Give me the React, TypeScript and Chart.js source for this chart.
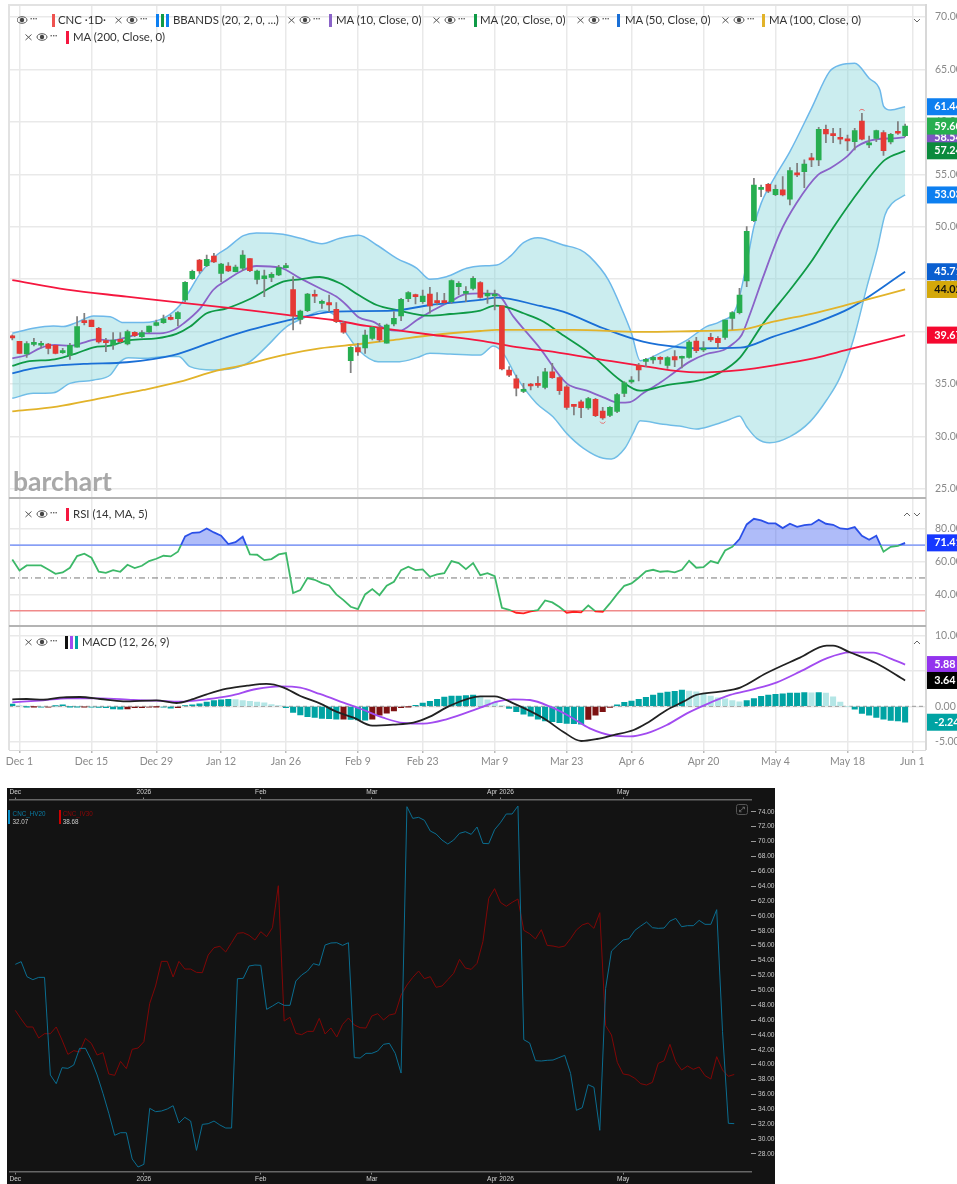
import React, { useEffect, useRef } from "react";
import { Chart, registerables } from "chart.js";

Chart.register(...registerables);

const FONT = "Lato, 'Noto Sans', sans-serif";

// Trading-day positions of the date axis (0 = Dec 1)
const dateTickIdx = [0, 10, 19, 28, 37, 47, 56, 66, 76, 85, 95, 105, 115, 124];
const dateTickLabels = ["Dec 1", "Dec 15", "Dec 29", "Jan 12", "Jan 26", "Feb 9", "Feb 23", "Mar 9", "Mar 23", "Apr 6", "Apr 20", "May 4", "May 18", "Jun 1"];
const priceTicks = [25, 30, 35, 40, 45, 50, 55, 60, 65, 70];
const rsiTicks = [40, 60, 80];
const macdTicks = [-5, 0, 5, 10];

// open, high, low, close for each session, first = Nov 28 (index -1)
const candles: number[][] = [
  [39.53, 39.69, 39.21, 39.4], [39.08, 39.08, 37.93, 37.93], [37.87, 39.05, 37.55, 38.85], [38.79, 39.36, 38.63, 38.95], [38.7, 39.08, 38.44, 38.89],
  [38.82, 38.89, 37.87, 38.41], [38.7, 38.7, 37.87, 37.93], [38.0, 38.41, 37.93, 38.16], [37.77, 38.89, 37.36, 38.7], [38.51, 41.43, 38.51, 40.48],
  [40.95, 41.75, 40.63, 40.86], [41.11, 41.11, 40.48, 40.48], [40.32, 40.41, 38.89, 39.01], [39.14, 39.36, 38.09, 38.95], [38.73, 39.9, 38.31, 39.2],
  [39.27, 39.9, 38.89, 39.05], [38.82, 40.16, 38.73, 40.0], [39.94, 40.0, 39.52, 39.62], [39.52, 40.09, 39.46, 39.9], [39.97, 40.54, 39.9, 40.54],
  [40.6, 41.11, 40.54, 40.86], [40.86, 41.59, 40.79, 41.21], [41.33, 41.59, 41.11, 41.17], [41.24, 41.91, 40.54, 41.81], [43.02, 44.77, 42.86, 44.7],
  [45.05, 45.88, 44.99, 45.75], [46.83, 46.9, 45.56, 45.78], [46.29, 47.31, 46.2, 46.9], [47.21, 47.47, 46.58, 46.64], [45.56, 46.51, 44.77, 46.45],
  [46.26, 46.58, 45.72, 45.78], [45.72, 46.35, 45.69, 46.16], [46.04, 47.72, 45.81, 47.31], [46.96, 46.96, 45.72, 45.81], [44.99, 45.88, 44.54, 45.78],
  [45.05, 45.88, 43.34, 45.31], [45.18, 45.62, 44.77, 45.47], [45.4, 46.32, 45.34, 46.1], [46.1, 46.51, 46.04, 46.29], [44.0, 45.24, 40.16, 41.49],
  [41.17, 42.06, 40.73, 41.97], [42.0, 43.65, 41.91, 43.59], [43.56, 43.97, 42.76, 43.37], [42.7, 43.02, 42.22, 42.86], [42.76, 43.49, 41.91, 42.54],
  [42.13, 42.76, 40.86, 40.95], [40.79, 40.95, 39.84, 39.94], [37.23, 38.57, 36.09, 38.51], [38.47, 38.89, 37.74, 38.06], [38.44, 40.16, 37.93, 39.68],
  [39.36, 40.48, 39.2, 40.41], [40.38, 40.79, 39.05, 39.2], [38.89, 40.73, 38.89, 40.63], [40.73, 41.91, 40.54, 41.27], [41.49, 43.18, 41.05, 43.08],
  [43.15, 43.81, 42.86, 43.72], [43.4, 43.59, 42.64, 43.34], [42.86, 43.97, 42.7, 43.4], [43.59, 44.23, 41.75, 42.45], [42.86, 43.72, 42.54, 42.76],
  [42.86, 43.65, 42.7, 42.76], [42.86, 44.93, 42.7, 44.86], [44.29, 44.77, 43.49, 44.61], [43.65, 44.29, 42.86, 43.81], [44.13, 45.24, 43.97, 45.08],
  [44.67, 44.77, 43.18, 43.27], [43.4, 43.97, 42.7, 43.65], [43.4, 43.97, 42.06, 43.59], [42.45, 42.45, 36.34, 36.44], [36.34, 36.66, 35.71, 35.84],
  [35.49, 35.87, 33.87, 34.6], [34.31, 35.07, 34.18, 34.5], [34.91, 35.07, 34.44, 34.82], [35.01, 35.71, 34.69, 34.88], [34.69, 36.5, 34.53, 36.18],
  [36.18, 36.98, 35.55, 35.61], [35.61, 35.71, 34.02, 34.37], [34.75, 34.91, 32.59, 32.78], [32.97, 33.0, 32.05, 32.88], [33.32, 33.48, 31.8, 32.75],
  [32.72, 33.74, 32.59, 33.61], [33.55, 33.64, 31.89, 32.0], [32.43, 32.78, 31.64, 31.77], [32.02, 32.85, 31.89, 32.78], [32.4, 34.12, 32.28, 33.99],
  [34.12, 35.23, 33.8, 35.13], [35.2, 35.71, 35.07, 35.39], [36.79, 36.98, 35.3, 36.34], [37.17, 37.46, 36.66, 37.3], [37.3, 37.68, 36.98, 37.55],
  [37.49, 37.62, 36.92, 37.36], [36.79, 37.62, 36.5, 37.52], [37.62, 38.19, 36.66, 37.3], [37.46, 37.68, 36.53, 37.62], [37.55, 39.14, 37.46, 39.01],
  [39.11, 39.46, 38.0, 38.19], [38.25, 39.05, 38.09, 38.41], [39.46, 39.84, 39.05, 39.2], [39.36, 39.52, 38.41, 38.95], [39.46, 41.11, 39.27, 41.11],
  [41.27, 41.91, 40.22, 41.81], [41.81, 44.13, 41.68, 43.49], [44.83, 50.01, 44.29, 49.56], [50.58, 54.62, 50.49, 53.98], [53.57, 53.98, 52.87, 53.7],
  [54.05, 54.14, 53.25, 53.38], [53.06, 53.98, 52.97, 53.57], [53.51, 54.78, 52.93, 53.03], [52.62, 55.63, 52.08, 55.35], [55.03, 56.05, 54.78, 54.94],
  [55.25, 56.37, 53.73, 55.98], [56.49, 57.0, 55.73, 56.37], [56.37, 59.48, 55.82, 59.28], [59.28, 59.7, 58.02, 58.84], [58.78, 59.38, 58.02, 58.68],
  [58.53, 59.38, 57.89, 58.34], [58.27, 58.75, 57.26, 58.18], [58.11, 59.38, 57.32, 59.16], [60.08, 60.81, 58.27, 58.34], [57.8, 58.65, 57.54, 57.89],
  [58.43, 59.22, 58.11, 59.16], [58.97, 59.16, 56.79, 57.26], [58.08, 58.91, 57.89, 58.81], [58.97, 60.02, 58.81, 58.91], [58.69, 59.79, 58.59, 59.6],
];

// session index, value
const bbUpper: number[][] = [[-1, 39.84], [1.9, 40.32], [4.7, 40.54], [6.1, 40.48], [7.9, 40.86], [10.3, 41.49], [12.6, 41.43], [14.4, 40.86], [17.2, 40.86], [20.4, 41.43], [22.3, 42.54], [23.7, 43.97], [25.1, 45.56], [27.4, 47.31], [28.8, 47.94], [31.1, 49.15], [32.9, 49.41], [36.6, 49.28], [39, 48.9], [42, 48.39], [44.5, 48.9], [47.1, 49.18], [49.6, 48.26], [52.4, 46.99], [55.2, 46.04], [57, 44.99], [59.3, 45.24], [62.1, 46.04], [64, 46.26], [66.3, 46.35], [68.1, 47.15], [70, 48.48], [72, 48.96], [75.5, 48.26], [77.9, 47.79], [79.2, 47.15], [81.8, 44.92], [83.9, 41.75], [85, 39.84], [86.2, 37.23], [89.4, 38.09], [92.7, 39.2], [95.4, 40.48], [97.3, 40.95], [99.6, 42.38], [101, 46.51], [102, 50.01], [103, 52.23], [105, 54.84], [107, 57.16], [110, 61.29], [112.5, 64.79], [114, 65.42], [116, 65.58], [118, 64.15], [119.5, 63.04], [120, 61.51], [121, 61.13], [123, 61.44]];
const bbLower: number[][] = [[-1, 33.64], [1.9, 34.12], [4.7, 34.18], [7, 35.07], [10.3, 35.39], [12.6, 35.87], [14, 37.14], [15.1, 37.52], [17.2, 37.46], [20.4, 37.62], [22.1, 37.62], [23.7, 36.66], [26.9, 36.34], [29.7, 36.5], [32, 37.14], [34.3, 38.57], [37.1, 40.48], [39.4, 41.27], [42, 41.97], [44, 41.43], [45.4, 39.84], [47.1, 38.25], [49.8, 37.14], [52.8, 37.14], [55.2, 37.52], [57, 37.93], [59.8, 37.87], [64, 37.77], [65.8, 38.63], [67.2, 37.93], [69, 35.71], [71.8, 33.17], [74.1, 31.89], [76, 30.3], [78.3, 28.9], [81.1, 27.92], [82.2, 27.86], [84.1, 28.9], [85.2, 30.3], [86.2, 31.5], [89.4, 31.16], [91.7, 31.0], [94, 30.72], [96.4, 31.1], [98.7, 31.64], [100, 31.96], [101, 30.94], [102.4, 29.83], [104.2, 29.41], [107, 29.99], [109.8, 31.42], [112.1, 33.48], [114, 35.71], [115.8, 39.2], [117.7, 44.29], [119.1, 47.79], [120.2, 51.13], [121.2, 52.23], [123, 53.03]];
const ma10: number[][] = [[-1, 37.46], [1, 37.77], [2.8, 38.41], [4.9, 38.73], [7, 38.66], [8.9, 38.95], [10.7, 39.27], [12.6, 39.14], [14.9, 39.46], [17.2, 39.84], [19.5, 39.84], [21.4, 40.16], [22.8, 40.79], [25.1, 42.22], [26.9, 43.97], [28.8, 44.92], [31.1, 45.88], [32.9, 46.26], [36.2, 46.1], [39, 45.08], [41.7, 44.13], [44, 43.34], [45.4, 42.54], [47.1, 41.37], [49.1, 40.95], [51, 40.22], [52.8, 40.09], [55.2, 41.11], [57.5, 42.06], [59.8, 42.86], [62.1, 43.59], [64, 43.65], [66.3, 43.59], [68.6, 41.43], [72.3, 38.41], [76, 35.07], [78.8, 34.37], [81.1, 33.74], [83.2, 33.23], [84.8, 33.29], [86.6, 34.12], [89, 35.14], [90.8, 36.03], [93.1, 37.14], [95.4, 37.87], [97.8, 38.25], [99.2, 38.89], [100.3, 39.68], [101.5, 41.75], [103.3, 45.24], [105.6, 49.37], [107.9, 52.23], [110.9, 54.94], [112.6, 55.57], [114.9, 56.68], [116.3, 57.64], [119, 58.34], [121.4, 58.43], [123, 58.54]];
const ma20: number[][] = [[-1, 36.73], [1, 37.14], [4.9, 37.36], [7.9, 37.93], [10.3, 38.51], [12.6, 38.66], [15.3, 39.2], [19, 39.36], [21.8, 39.78], [23.7, 40.48], [26, 41.75], [28.8, 42.22], [32, 43.11], [36.6, 44.77], [39, 44.99], [41.7, 45.21], [44.5, 44.61], [47.1, 43.49], [49.6, 42.54], [52.4, 42.06], [57, 41.52], [59.8, 41.68], [64, 42.0], [66, 42.48], [67.4, 42.38], [70, 41.75], [72.8, 40.95], [75.1, 39.84], [79.2, 37.93], [83.4, 35.39], [86.2, 34.37], [89.9, 34.91], [95, 35.45], [97.3, 36.09], [100.1, 37.55], [103.3, 40.79], [107, 43.97], [109.8, 46.51], [113.1, 50.01], [116.7, 53.51], [120.2, 56.37], [123, 57.24]];
const ma50: number[][] = [[-1, 36.03], [1.9, 36.5], [8.9, 36.92], [14.9, 37.08], [21.4, 37.77], [26.9, 39.05], [32, 40.16], [37.1, 41.05], [39.9, 41.49], [43.6, 41.91], [51.9, 42.0], [57, 42.54], [64, 43.02], [66.3, 43.24], [72.3, 42.45], [75.5, 41.91], [81.1, 40.32], [86.6, 39.05], [91.7, 38.51], [94, 38.41], [100.1, 38.47], [104.7, 39.52], [110.3, 40.79], [115.3, 42.22], [123, 45.71]];
const ma100: number[][] = [[-1, 32.4], [5.2, 32.85], [11.2, 33.64], [17.2, 34.44], [22.3, 35.23], [27.4, 36.28], [30.6, 36.73], [36.6, 37.77], [41.7, 38.41], [47.3, 38.82], [51.9, 39.2], [57.5, 39.68], [64, 40.06], [66.3, 40.16], [76.9, 40.16], [86.2, 39.97], [94, 40.06], [100.5, 40.22], [104.7, 40.95], [110.3, 41.75], [114.9, 42.54], [123, 44.02]];
const ma200: number[][] = [[-1, 44.92], [6.6, 44.0], [14.9, 43.34], [22.3, 42.76], [29.7, 42.22], [37.1, 41.59], [43.6, 41.11], [48.2, 40.54], [52.8, 40.09], [57.5, 39.68], [64, 39.14], [68.6, 38.57], [73.2, 38.16], [79.7, 37.46], [87.1, 36.66], [94, 36.12], [100.1, 36.34], [105.6, 36.88], [110.3, 37.46], [114.9, 38.25], [123, 39.67]];

const rsi = [61.3, 54.59, 57.64, 57.64, 57.64, 55.2, 52.56, 53.37, 56.22, 63.33, 64.76, 62.32, 53.78, 53.17, 54.8, 53.78, 58.05, 56.02, 57.44, 60.28, 61.71, 63.54, 63.13, 65.98, 75.33, 77.56, 77.76, 80.2, 77.76, 75.73, 70.65, 71.87, 75.12, 64.35, 64.15, 60.89, 61.5, 64.35, 65.16, 40.77, 42.6, 49.92, 48.9, 46.87, 45.45, 39.96, 36.5, 32.44, 31.02, 39.96, 43.21, 39.55, 45.24, 47.68, 54.8, 56.83, 54.8, 55.2, 50.73, 52.15, 52.97, 60.28, 59.07, 55.41, 59.07, 51.75, 52.97, 51.14, 31.83, 30.61, 28.78, 28.37, 29.59, 30.41, 36.3, 35.08, 32.24, 28.78, 29.39, 28.98, 33.25, 29.59, 29.39, 34.47, 40.16, 45.24, 46.67, 50.12, 53.98, 55.0, 53.78, 54.19, 53.37, 55.0, 60.49, 56.22, 56.63, 60.28, 59.07, 66.79, 69.02, 73.7, 82.64, 86.1, 85.08, 83.25, 83.25, 80.41, 83.05, 81.22, 82.24, 82.64, 85.49, 83.05, 82.44, 80.2, 79.8, 81.02, 75.73, 73.29, 75.73, 65.98, 69.02, 69.63, 71.41];

const macdLine: number[][] = [[-1, 0.99], [1, 1.03], [3.3, 0.94], [6.1, 1.27], [8.4, 1.31], [11.2, 1.03], [14.4, 0.7], [19, 0.85], [21.8, 0.47], [23.7, 0.89], [26, 1.69], [28.8, 2.49], [31.6, 2.91], [34.3, 3.15], [36.6, 2.68], [39, 1.46], [41.7, 0.42], [44, -0.75], [46.4, -1.6], [49, -2.72], [51.9, -2.58], [54.7, -2.3], [57, -1.46], [59.8, 0.09], [64, 1.41], [66, 1.41], [68.6, 0.42], [72.8, -1.69], [75.5, -3.57], [78, -4.88], [80.2, -4.6], [82.5, -4.04], [85.3, -3.33], [87.1, -2.39], [89.9, -0.52], [92.2, 0.66], [94, 1.6], [97.3, 2.07], [100.1, 2.63], [103.7, 4.65], [108.4, 6.85], [112.1, 8.54], [113, 8.54], [115.3, 7.61], [119, 6.06], [123, 3.64]];
const macdSignal: number[][] = [[-1, 0.56], [3.3, 0.85], [6.6, 1.13], [11.2, 1.13], [15.8, 0.89], [19, 0.8], [22.3, 0.66], [26, 0.99], [29.2, 1.46], [32.9, 2.44], [36.2, 2.82], [39, 2.63], [41.7, 1.74], [45, 0.52], [47.8, -0.52], [50.5, -1.6], [53.3, -2.35], [56.1, -2.44], [59.3, -1.83], [64, -0.19], [66.3, 0.66], [68.6, 0.99], [70.9, 0.89], [73.7, -0.05], [76.5, -1.46], [79.2, -3.1], [82.5, -4.13], [84.8, -4.23], [87.1, -3.8], [89.9, -2.63], [92.7, -0.99], [95.4, 0.28], [98.7, 1.6], [101.9, 2.39], [105.2, 3.38], [108.4, 4.88], [112.1, 6.76], [115.3, 7.61], [118.6, 7.56], [120.9, 6.76], [123, 5.88]];
const macdHist = [0.3, 0.1, -0.05, -0.05, -0.1, -0.1, 0.05, 0.2, -0.05, -0.08, -0.08, -0.1, -0.15, -0.2, -0.35, -0.4, -0.35, -0.2, -0.2, -0.1, -0.05, -0.1, -0.25, -0.2, 0.1, 0.2, 0.35, 0.6, 0.8, 0.9, 1.0, 0.95, 0.8, 0.7, 0.6, 0.5, 0.25, 0.1, -0.2, -0.85, -1.2, -1.45, -1.55, -1.7, -1.75, -1.8, -1.8, -1.85, -1.9, -1.95, -1.8, -1.25, -0.95, -0.65, -0.2, -0.05, 0.15, 0.45, 0.7, 1.0, 1.3, 1.45, 1.45, 1.5, 1.6, 1.4, 0.9, 0.6, 0.1, -0.3, -0.75, -1.1, -1.4, -1.8, -2.05, -2.15, -2.3, -2.4, -2.45, -2.5, -1.85, -1.25, -0.75, -0.15, 0.2, 0.55, 0.75, 1.0, 1.25, 1.6, 1.85, 2.0, 2.1, 2.3, 2.15, 2.05, 1.75, 1.45, 1.2, 1.05, 0.8, 0.65, 0.8, 1.1, 1.4, 1.6, 1.7, 1.75, 1.85, 1.85, 1.95, 1.9, 1.95, 1.85, 1.35, 0.6, 0, -0.4, -1.0, -1.25, -1.55, -1.8, -2.0, -2.05, -2.24];

// Lower panel: historical and implied volatility, first = Dec 1
const hv20 = [53.48, 53.84, 51.82, 51.42, 51.73, 51.73, 38.61, 37.44, 39.59, 39.5, 39.95, 42.19, 42.19, 40.62, 38.61, 36.14, 33.45, 30.5, 30.85, 30.85, 27.32, 26.24, 26.6, 34.13, 33.68, 33.77, 34.04, 34.48, 32.15, 32.92, 32.42, 28.48, 31.97, 32.06, 32.42, 31.89, 31.48, 31.48, 51.55, 51.6, 53.26, 53.39, 53.35, 47.43, 47.88, 48.37, 47.97, 47.97, 51.24, 52.05, 52.58, 53.57, 53.35, 56.08, 56.35, 56.39, 56.03, 56.39, 40.94, 40.89, 41.52, 41.52, 41.83, 42.73, 42.86, 41.52, 38.87, 74.67, 73.1, 73.24, 72.84, 71.4, 71.0, 70.19, 69.65, 70.19, 71.09, 71.31, 70.95, 71.94, 69.74, 69.7, 71.58, 72.52, 73.69, 73.69, 74.76, 43.35, 42.91, 40.53, 40.49, 40.58, 40.62, 40.94, 41.25, 38.83, 33.86, 34.22, 37.31, 36.95, 31.17, 50.25, 55.27, 56.03, 56.75, 56.93, 58.05, 58.63, 59.17, 58.41, 58.32, 58.36, 59.3, 59.66, 58.54, 58.68, 58.68, 59.39, 58.86, 58.86, 60.83, 44.43, 32.11, 32.07];
const iv30 = [47.3, 46.13, 45.06, 45.06, 43.58, 44.16, 44.16, 45.06, 43.31, 41.38, 41.88, 41.7, 43.53, 42.86, 41.29, 41.61, 38.74, 38.56, 40.44, 39.46, 42.06, 42.23, 43.09, 48.24, 50.57, 53.88, 53.88, 51.78, 53.88, 52.85, 52.85, 52.4, 52.36, 54.73, 55.72, 55.9, 55.14, 56.39, 57.65, 57.74, 57.38, 56.75, 57.87, 57.2, 58.41, 64.05, 45.86, 46.36, 44.21, 44.03, 44.47, 44.47, 46.22, 44.12, 44.92, 43.71, 45.42, 46.27, 45.33, 44.97, 44.92, 46.54, 46.85, 46.0, 46.67, 46.85, 49.36, 50.7, 51.73, 52.58, 51.55, 51.82, 50.39, 50.57, 51.42, 52.27, 54.15, 52.99, 52.81, 53.61, 56.53, 62.35, 63.65, 61.81, 61.28, 61.81, 62.26, 58.05, 57.6, 56.89, 58.14, 56.03, 55.94, 55.77, 55.94, 56.93, 58.1, 58.77, 59.04, 58.32, 60.42, 45.24, 43.98, 40.31, 38.74, 38.61, 38.16, 37.44, 37.26, 37.62, 40.17, 40.53, 42.73, 40.4, 39.28, 39.82, 39.37, 39.68, 38.52, 38.07, 41.07, 39.28, 38.43, 38.68];
const volTickIdx = [0, 22, 42, 61, 83, 104];
const volTickLabels = ["Dec", "2026", "Feb", "Mar", "Apr 2026", "May"];
const volTicks = [28, 30, 32, 34, 36, 38, 40, 42, 44, 46, 48, 50, 52, 54, 56, 58, 60, 62, 64, 66, 68, 70, 72, 74];

const priceTags: [number, string, string][] = [
  [39.67, "#f5082f", "#fff"], [44.02, "#d4a80a", "#111"], [45.71, "#0a5fd0", "#fff"], [53.03, "#0d7ff0", "#fff"],
  [58.54, "#7e57c2", "#fff"], [61.44, "#0d7ff0", "#fff"], [57.24, "#0a8a3c", "#fff"], [59.6, "#27ae50", "#fff"],
];
const rsiTags: [number, string, string][] = [[71.41, "#1638ff", "#fff"]];
const macdTags: [number, string, string][] = [[-2.24, "#00a3a3", "#fff"], [5.88, "#9333ee", "#fff"], [3.64, "#000", "#fff"]];

const GRID = "#e9e9e9";
const GREEN = "#27ae50";
const RED = "#e53935";
const xMin = -1.458;
const xMax = 125.86;

const pts = (rows: number[][]) => rows.map(([x, y]) => ({ x, y }));
const series = (vals: number[], start: number) => vals.map((y, i) => ({ x: start + i, y }));

const noEdgePadding = (s: any) => {
  s.paddingTop = 0;
  s.paddingBottom = 0;
  s.paddingLeft = 0;
  s.paddingRight = 0;
};

const tagPlugin = (tags: [number, string, string][]) => ({
  id: "tags",
  afterDraw(chart: any) {
    const { ctx, scales, chartArea } = chart;
    ctx.save();
    ctx.font = `bold 10.8px ${FONT}`;
    ctx.textBaseline = "middle";
    ctx.textAlign = "left";
    for (const [v, bg, fg] of tags) {
      const y = scales.y.getPixelForValue(v);
      ctx.fillStyle = bg;
      ctx.fillRect(chartArea.right, y - 8.5, 40, 17);
      ctx.fillStyle = fg;
      ctx.fillText(v.toFixed(2), chartArea.right + 8.5, y);
    }
    ctx.restore();
  },
});

const extremesPlugin = {
  id: "extremes",
  afterDatasetsDraw(chart: any) {
    const { ctx, scales } = chart;
    const mark = (i: number, v: number, up: boolean) => {
      ctx.beginPath();
      const x = scales.x.getPixelForValue(i);
      const y = scales.y.getPixelForValue(v) + (up ? -3 : 3);
      if (up) ctx.arc(x, y + 2, 3, Math.PI * 1.15, Math.PI * 1.85);
      else ctx.arc(x, y - 2, 3, Math.PI * 0.15, Math.PI * 0.85);
      ctx.strokeStyle = "#e57373";
      ctx.lineWidth = 1;
      ctx.stroke();
    };
    mark(117, candles[118][1], true);
    mark(81, candles[82][2], false);
  },
};

const xScale = (labels: boolean) => ({
  type: "linear",
  min: xMin,
  max: xMax,
  offset: false,
  afterBuildTicks(s: any) {
    s.ticks = dateTickIdx.map((value) => ({ value }));
  },
  afterFit(s: any) {
    s.height = labels ? 26 : 0;
    noEdgePadding(s);
  },
  border: { display: false },
  grid: { color: GRID, lineWidth: 1.5, offset: false, drawTicks: labels, tickLength: 3, tickColor: "#bbb" },
  ticks: {
    display: labels,
    autoSkip: false,
    maxRotation: 0,
    padding: 2,
    color: "#8a8a8a",
    font: { family: FONT, size: 10.5 },
    callback: (v: number) => dateTickLabels[dateTickIdx.indexOf(v)] ?? "",
  },
});

const yScale = (min: number, max: number, values: number[]) => ({
  type: "linear",
  position: "right",
  min,
  max,
  beginAtZero: false,
  afterBuildTicks(s: any) {
    s.ticks = values.map((value) => ({ value }));
  },
  afterFit(s: any) {
    s.width = 31.3;
    noEdgePadding(s);
  },
  border: { display: false },
  grid: { color: GRID, lineWidth: 1.5, drawTicks: false },
  ticks: {
    padding: 9.3,
    color: "#8a8a8a",
    font: { family: FONT, size: 10.5 },
    callback: (v: number) => v.toFixed(2),
  },
});

const baseOptions = (padding: any, scales: any) => ({
  responsive: false,
  animation: false,
  events: [],
  layout: { padding },
  plugins: { legend: { display: false }, tooltip: { enabled: false } },
  scales,
});

const lineDs = (rows: number[][], color: string, width = 1.8, extra: any = {}) => ({
  type: "line",
  data: pts(rows),
  borderColor: color,
  borderWidth: width,
  pointRadius: 0,
  cubicInterpolationMode: "monotone",
  fill: false,
  ...extra,
});

function useChart(ref: React.RefObject<HTMLCanvasElement | null>, build: () => any) {
  useEffect(() => {
    const chart = new Chart(ref.current as HTMLCanvasElement, build());
    return () => chart.destroy();
  }, []);
}

const hline = (y: number, color: string, width: number, dash: number[] = []) => ({
  type: "line",
  data: [{ x: xMin, y }, { x: xMax, y }],
  borderColor: color,
  borderWidth: width,
  borderDash: dash,
  pointRadius: 0,
  fill: false,
});

const Icons = ({ x, y, close = true }: any) => (
  <svg style={{ position: "absolute", left: x - 6, top: y - 6 }} width="40" height="12" viewBox="0 0 40 12">
    {close && <path d="M2.5 3.5l6 5.5M8.5 3.5l-6 5.5" stroke="#555" strokeWidth="1" />}
    <g transform={`translate(${close ? 14 : 0},0)`}>
      <ellipse cx="5" cy="6" rx="5" ry="3.3" fill="none" stroke="#555" strokeWidth="1" />
      <circle cx="5" cy="6" r="2.2" fill="#444" />
      <g fill="#666">
        <rect x="13.5" y="4" width="1.4" height="1.4" />
        <rect x="16" y="4" width="1.4" height="1.4" />
        <rect x="18.5" y="4" width="1.4" height="1.4" />
      </g>
    </g>
  </svg>
);

const Bar = ({ x, y, c }: any) => <div style={{ position: "absolute", left: x - 1.5, top: y - 6.5, width: 3, height: 13, background: c }} />;

const Label = ({ x, y, children }: any) => (
  <span style={{ position: "absolute", left: x, top: y, transform: "translateY(-50%)", whiteSpace: "nowrap", font: `11.4px ${FONT}`, color: "#333", lineHeight: "14px" }}>
    {children}
  </span>
);

const Chev = ({ x, y, up }: any) => (
  <svg style={{ position: "absolute", left: x - 4, top: y - 3 }} width="8" height="6" viewBox="0 0 8 6">
    <path d={up ? "M1 5l3-3 3 3" : "M1 2l3 3 3-3"} fill="none" stroke="#666" strokeWidth="1" />
  </svg>
);

const Rule = ({ l, t, w, h, c }: any) => <div style={{ position: "absolute", left: l, top: t, width: w, height: h, background: c }} />;

export default function App() {
  const mainRef = useRef<HTMLCanvasElement>(null);
  const rsiRef = useRef<HTMLCanvasElement>(null);
  const macdRef = useRef<HTMLCanvasElement>(null);
  const volRef = useRef<HTMLCanvasElement>(null);

  useChart(mainRef, () => ({
    type: "line",
    data: {
      datasets: [
        {
          type: "bar",
          data: candles.map(([o, , , c], i) => ({ x: i - 1, y: [o, c] })),
          backgroundColor: candles.map(([o, , , c]) => (c >= o ? GREEN : RED)),
          barThickness: 5,
          minBarLength: 2,
          grouped: false,
          order: 0,
        },
        {
          type: "bar",
          data: candles.map(([, h, l], i) => ({ x: i - 1, y: [l, h] })),
          backgroundColor: "#808080",
          barThickness: 1.1,
          grouped: false,
          order: 1,
        },
        { ...lineDs(ma200, "#f5173f"), order: 2 },
        { ...lineDs(ma100, "#e2b32a"), order: 3 },
        { ...lineDs(ma50, "#1a6fd6"), order: 4 },
        { ...lineDs(ma20, "#0f9a46"), order: 5 },
        { ...lineDs(ma10, "#8a63c8"), order: 6 },
        { ...lineDs(bbUpper, "#6db8ea", 1.5, { fill: { target: "+1", above: "rgba(130,212,218,0.42)", below: "rgba(130,212,218,0.42)" } }), order: 7 },
        { ...lineDs(bbLower, "#6db8ea", 1.5), order: 8 },
      ],
    },
    options: baseOptions({ left: 9, top: 5, right: 0, bottom: 0 }, { x: xScale(false), y: yScale(24.14, 71.14, priceTicks) }),
    plugins: [extremesPlugin, tagPlugin(priceTags)],
  }));

  useChart(rsiRef, () => ({
    type: "line",
    data: {
      datasets: [
        {
          data: series(rsi, -1),
          pointRadius: 0,
          borderWidth: 1.8,
          borderColor(ctx: any) {
            const { chart } = ctx;
            if (!chart.chartArea) return "#3cb868";
            const y = chart.scales.y;
            const top = y.getPixelForValue(100);
            const bot = y.getPixelForValue(0);
            const g = chart.ctx.createLinearGradient(0, top, 0, bot);
            g.addColorStop(0, "#2b50e8");
            g.addColorStop(0.3, "#2b50e8");
            g.addColorStop(0.3, "#3cb868");
            g.addColorStop(0.7, "#3cb868");
            g.addColorStop(0.7, "#f22");
            g.addColorStop(1, "#f22");
            return g;
          },
          fill: { target: { value: 70 }, above: "rgba(64,96,240,0.42)", below: "rgba(0,0,0,0)" },
        },
        hline(70, "#8ea4f6", 1.6),
        hline(50, "#777", 1, [6, 3, 1, 3]),
        hline(30, "#f08a8a", 1.4),
      ],
    },
    options: baseOptions({ left: 9, top: 0, right: 0, bottom: 0 }, { x: xScale(false), y: yScale(21.32, 98.76, rsiTicks) }),
    plugins: [tagPlugin(rsiTags)],
  }));

  useChart(macdRef, () => ({
    type: "line",
    data: {
      datasets: [
        lineDs(macdLine, "#222"),
        lineDs(macdSignal, "#a24bf0"),
        {
          type: "bar",
          data: series(macdHist, -1),
          backgroundColor: macdHist.map((v, i) => {
            const rising = i > 0 ? v >= macdHist[i - 1] : true;
            if (v >= 0) return rising ? "#00a3a3" : "#b4e6e6";
            return rising ? "#7d1212" : "#00a3a3";
          }),
          barThickness: 5.4,
          grouped: false,
        },
        hline(0, "#9a9a9a", 1, [4, 3]),
      ],
    },
    options: baseOptions({ left: 9, top: 0, right: 0, bottom: 0 }, { x: xScale(true), y: yScale(-6.15, 11.31, macdTicks) }),
    plugins: [tagPlugin(macdTags)],
  }));

  useChart(volRef, () => {
    const volX = (position: string) => ({
      type: "linear",
      position,
      min: -0.907,
      max: 125.87,
      afterBuildTicks(s: any) {
        s.ticks = volTickIdx.map((value) => ({ value }));
      },
      afterFit(s: any) {
        s.height = 12;
        noEdgePadding(s);
      },
      border: { display: true, color: "#666", width: 1.6 },
      grid: { drawOnChartArea: false, drawTicks: true, tickLength: 2.5, tickColor: "#888" },
      ticks: {
        autoSkip: false,
        maxRotation: 0,
        padding: 1,
        color: "#d0d0d0",
        font: { family: "'Liberation Sans', Arial, sans-serif", size: 6.6 },
        callback: (v: number) => volTickLabels[volTickIdx.indexOf(v)] ?? "",
      },
    });
    return {
      type: "line",
      data: {
        datasets: [
          { data: series(hv20, 0), borderColor: "#0a6d90", borderWidth: 1, pointRadius: 0, xAxisID: "x" },
          { data: series(iv30, 0), borderColor: "#800606", borderWidth: 1, pointRadius: 0, xAxisID: "x" },
        ],
      },
      options: baseOptions(
        { left: 3, top: 0, right: 0, bottom: 0 },
        {
          x: volX("bottom"),
          xTop: volX("top"),
          y: {
            type: "linear",
            position: "right",
            min: 25.57,
            max: 75.57,
            afterBuildTicks(s: any) {
              s.ticks = volTicks.map((value) => ({ value }));
            },
            afterFit(s: any) {
              s.width = 24;
              noEdgePadding(s);
            },
            border: { display: false },
            grid: { drawOnChartArea: false, drawTicks: true, tickLength: 5, tickColor: "#999", offset: false },
            ticks: {
              padding: 2,
              color: "#c8c8c8",
              font: { family: "'Liberation Sans', Arial, sans-serif", size: 6.6 },
              callback: (v: number) => v.toFixed(2),
            },
          },
        }
      ),
    };
  });

  const abs = (top: number): React.CSSProperties => ({ position: "absolute", left: 0, top, display: "block" });

  return (
    <div style={{ position: "absolute", left: 0, top: 0, width: 957, height: 1184, overflow: "hidden", background: "#fff", filter: "blur(0.55px)" }}>
      <canvas ref={mainRef} width={957} height={498} style={abs(0)} />
      <canvas ref={rsiRef} width={957} height={127} style={abs(498)} />
      <canvas ref={macdRef} width={957} height={150} style={abs(626)} />
      <canvas ref={volRef} width={768} height={396} style={{ position: "absolute", left: 7, top: 788, display: "block", background: "#131313" }} />

      <Rule l={8} t={4} w={918} h={1.5} c="#e2e2e2" />
      <Rule l={8} t={4} w={1.5} h={746} c="#e2e2e2" />
      <Rule l={925} t={4} w={1.5} h={746} c="#d8d8d8" />
      <Rule l={9} t={497} w={917} h={2} c="#b4b4b4" />
      <Rule l={9} t={624.5} w={917} h={2} c="#b4b4b4" />
      <Rule l={9} t={749.5} w={917} h={1.5} c="#dcdcdc" />

      <span style={{ position: "absolute", left: 13, top: 466, font: `bold 26.5px ${FONT}`, color: "#a8a8a8", lineHeight: "30px" }}>barchart</span>

      <Icons x={23} y={20} close={false} />
      <Bar x={53} y={20} c="#ef5350" />
      <Label x={58} y={20}>CNC ·1D·</Label>
      <Icons x={119} y={20} />
      <Bar x={157} y={20} c="#0d7ff0" />
      <Bar x={162} y={20} c="#0f9a46" />
      <Bar x={167} y={20} c="#0d7ff0" />
      <Label x={173} y={20}>BBANDS (20, 2, 0, ...)</Label>
      <Icons x={292} y={20} />
      <Bar x={330} y={20} c="#8a63c8" />
      <Label x={336} y={20}>MA (10, Close, 0)</Label>
      <Icons x={437} y={20} />
      <Bar x={475} y={20} c="#0f9a46" />
      <Label x={480} y={20}>MA (20, Close, 0)</Label>
      <Icons x={581} y={20} />
      <Bar x={618} y={20} c="#1a6fd6" />
      <Label x={625} y={20}>MA (50, Close, 0)</Label>
      <Icons x={726} y={20} />
      <Bar x={763} y={20} c="#e2b32a" />
      <Label x={769} y={20}>MA (100, Close, 0)</Label>
      <Chev x={917} y={20} />
      <Icons x={29} y={37} />
      <Bar x={67} y={37} c="#f5173f" />
      <Label x={73} y={37}>MA (200, Close, 0)</Label>

      <Icons x={29} y={514} />
      <Bar x={67} y={514} c="#f5173f" />
      <Label x={73} y={514}>RSI (14, MA, 5)</Label>
      <Chev x={906.5} y={514} up />
      <Chev x={916.5} y={514} />

      <Icons x={29} y={642} />
      <Bar x={66} y={642} c="#111" />
      <Bar x={71.5} y={642} c="#a24bf0" />
      <Bar x={76.5} y={642} c="#00a3a3" />
      <Label x={82} y={642}>MACD (12, 26, 9)</Label>
      <Chev x={916.5} y={642} up />

      <Rule l={8} t={810} w={2.2} h={14} c="#0a8fc9" />
      <span style={{ position: "absolute", left: 12.6, top: 809.5, font: "6.3px 'Liberation Sans', Arial, sans-serif", color: "#0a7ba3" }}>CNC_HV20</span>
      <span style={{ position: "absolute", left: 12.6, top: 817.5, font: "6.3px 'Liberation Sans', Arial, sans-serif", color: "#ccc" }}>32.07</span>
      <Rule l={58.5} t={810} w={2.2} h={14} c="#cc0000" />
      <span style={{ position: "absolute", left: 62.7, top: 809.5, font: "6.3px 'Liberation Sans', Arial, sans-serif", color: "#8f0606" }}>CNC_IV30</span>
      <span style={{ position: "absolute", left: 62.7, top: 817.5, font: "6.3px 'Liberation Sans', Arial, sans-serif", color: "#ccc" }}>38.68</span>
      <svg style={{ position: "absolute", left: 736, top: 804 }} width="12" height="11" viewBox="0 0 12 11">
        <rect x="0.5" y="0.5" width="11" height="10" rx="2" fill="none" stroke="#555" />
        <path d="M4 7l4-3.5M6.5 3.2h2v2M5.5 7.8h-2v-2" fill="none" stroke="#888" strokeWidth="0.7" />
      </svg>
    </div>
  );
}
